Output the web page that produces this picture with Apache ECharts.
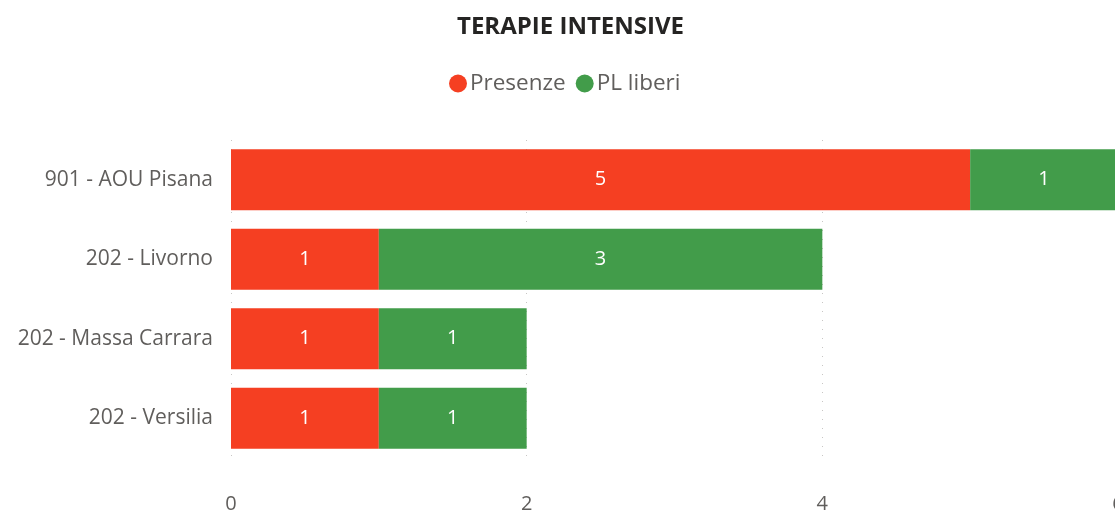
<!DOCTYPE html>
<html>
<head>
<meta charset="utf-8">
<script src="https://cdn.jsdelivr.net/npm/echarts@6/dist/echarts.min.js"></script>
<style>
  html, body { margin: 0; padding: 0; background: #fff; }
  #chart { width: 1115px; height: 517px; }
</style>
</head>
<body>
<div id="chart"></div>
<script>
var categories = ['901 - AOU Pisana', '202 - Livorno', '202 - Massa Carrara', '202 - Versilia'];
var presenze = [5, 1, 1, 1];
var plLiberi = [1, 3, 1, 1];
var xTicks = [0, 2, 4, 6];

var font = '"Open Sans", "Noto Sans", sans-serif';
var chart = echarts.init(document.getElementById('chart'));

var option = {
  animation: false,
  textStyle: { fontFamily: font },
  title: {
    text: 'TERAPIE INTENSIVE',
    left: 452,
    top: 10,
    textStyle: { fontSize: 24, fontWeight: 'bold', color: '#252423', fontFamily: font }
  },
  legend: {
    top: 67,
    left: 444,
    icon: 'circle',
    itemWidth: 18,
    itemHeight: 18,
    itemGap: 10,
    textStyle: { fontSize: 22.5, color: '#605E5C', fontFamily: font, padding: [0, 0, 0, -2] },
    data: ['Presenze', 'PL liberi']
  },
  grid: {
    left: 231,
    width: 887,
    top: 140,
    height: 318,
    outerBoundsMode: 'none'
  },
  xAxis: {
    type: 'value',
    min: xTicks[0],
    max: xTicks[xTicks.length - 1],
    interval: 2,
    axisLine: { show: false },
    axisTick: { show: false },
    axisLabel: { fontSize: 20, color: '#605E5C', margin: 36 },
    splitLine: { show: true, lineStyle: { type: [1, 8], color: '#C8C6C4', width: 1 } }
  },
  yAxis: {
    type: 'category',
    inverse: true,
    data: categories,
    axisLine: { show: false },
    axisTick: { show: false },
    axisLabel: { fontSize: 21, color: '#605E5C', margin: 18 }
  },
  series: [
    {
      name: 'Presenze',
      type: 'bar',
      stack: 'tot',
      barWidth: 61,
      data: presenze,
      itemStyle: { color: '#F53F22' },
      label: { show: true, position: 'inside', color: '#fff', fontSize: 20 }
    },
    {
      name: 'PL liberi',
      type: 'bar',
      stack: 'tot',
      barWidth: 61,
      data: plLiberi,
      itemStyle: { color: '#429C4A' },
      label: { show: true, position: 'inside', color: '#fff', fontSize: 20 }
    }
  ]
};

chart.setOption(option);
</script>
</body>
</html>
